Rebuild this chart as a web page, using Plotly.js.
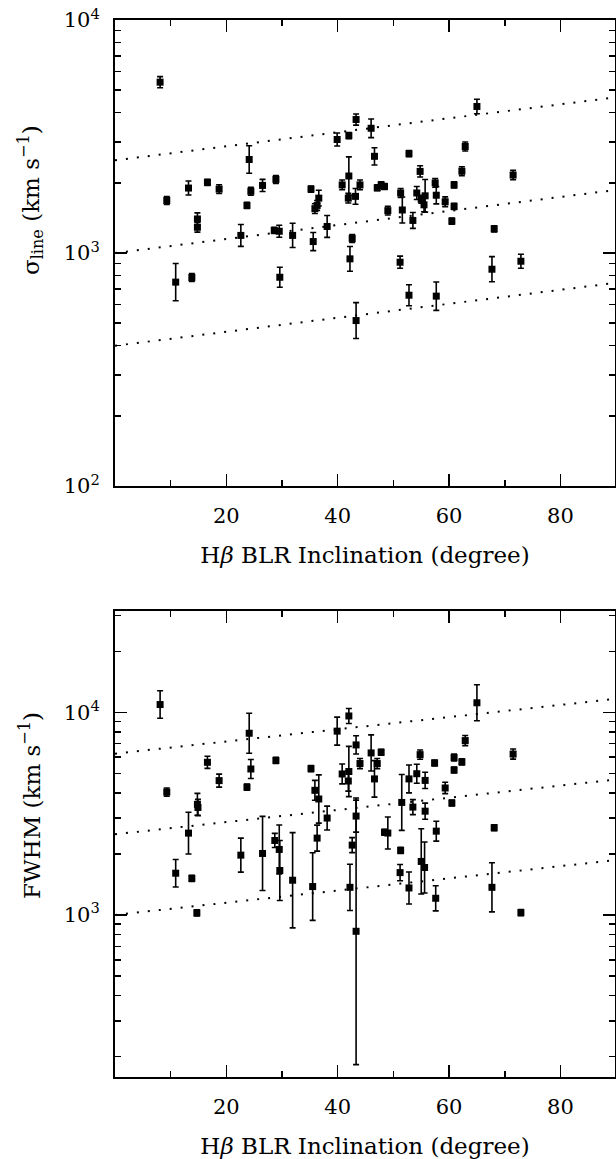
<!DOCTYPE html>
<html>
<head>
<meta charset="utf-8">
<script src="https://cdn.plot.ly/plotly-3.0.1.min.js"></script>
<style>
html,body{margin:0;padding:0;background:#fff;}
#chart{width:616px;height:1159px;}
</style>
</head>
<body>
<div id="chart"></div>
<script>
// ---- Top panel: sigma_line vs inclination ----
const sigInc = [8.1, 9.3, 10.9, 13.2, 13.8, 14.8, 14.8, 16.6, 18.7, 22.6, 23.7, 24.1, 24.4, 26.5, 28.6, 28.9, 29.5, 29.6, 31.9, 35.2, 35.6, 35.9, 36.3, 36.6, 38.1, 39.9, 40.8, 42.0, 42.0, 41.9, 42.2, 42.6, 43.3, 43.2, 43.3, 44.0, 46.0, 46.6, 47.1, 47.8, 48.4, 49.0, 51.2, 51.3, 51.6, 52.8, 52.8, 53.5, 54.2, 54.8, 55.0, 55.5, 55.7, 57.5, 57.7, 57.7, 59.3, 60.5, 60.9, 60.9, 62.3, 62.9, 65.0, 67.7, 68.1, 71.5, 72.9];
const sigVal = [5410, 1680, 750, 1900, 785, 1400, 1290, 2010, 1880, 1190, 1600, 2520, 1840, 1950, 1250, 2070, 1240, 787, 1190, 1880, 1120, 1550, 1600, 1720, 1300, 3070, 1960, 3190, 2140, 1720, 944, 1155, 3740, 1750, 513, 1960, 3430, 2600, 1905, 1960, 1930, 1520, 913, 1810, 1530, 2670, 659, 1380, 1810, 2240, 1700, 1610, 1760, 2000, 1770, 653, 1660, 1370, 1960, 1585, 2245, 2865, 4255, 852, 1270, 2160, 922];
const sigErrDex = [0.024, 0.017, 0.080, 0.030, 0.017, 0.026, 0.021, 0.013, 0.019, 0.047, 0.013, 0.059, 0.017, 0.026, 0.013, 0.017, 0.026, 0.043, 0.052, 0.013, 0.039, 0.021, 0.021, 0.034, 0.047, 0.028, 0.021, 0.013, 0.082, 0.021, 0.053, 0.017, 0.024, 0.034, 0.077, 0.021, 0.040, 0.037, 0.013, 0.013, 0.013, 0.019, 0.026, 0.019, 0.056, 0.013, 0.045, 0.034, 0.028, 0.024, 0.017, 0.030, 0.070, 0.019, 0.037, 0.061, 0.021, 0.013, 0.013, 0.013, 0.019, 0.019, 0.031, 0.054, 0.013, 0.020, 0.030];

// ---- Bottom panel: FWHM vs inclination ----
const fwhmInc = [8.1, 9.3, 10.9, 13.2, 13.8, 14.7, 14.8, 14.9, 16.6, 18.7, 22.6, 23.7, 24.1, 24.4, 26.5, 28.7, 28.9, 29.5, 29.6, 31.9, 35.2, 35.5, 35.9, 36.3, 36.6, 38.1, 39.9, 40.8, 42.0, 42.0, 41.9, 42.2, 42.6, 43.3, 43.3, 43.3, 44.0, 46.0, 46.6, 47.1, 47.8, 48.4, 49.0, 51.2, 51.3, 51.5, 52.8, 52.8, 53.5, 54.2, 54.8, 55.0, 55.6, 55.7, 55.7, 57.4, 57.7, 57.6, 59.3, 60.5, 60.9, 60.9, 62.3, 62.9, 65.0, 67.7, 68.1, 71.5, 72.9];
const fwhmVal = [10920, 4040, 1606, 2533, 1514, 1023, 3512, 3390, 5665, 4600, 1972, 4270, 7880, 5250, 2010, 2330, 5785, 2104, 1656, 1483, 5270, 1380, 4120, 2393, 3733, 3006, 8070, 4960, 9590, 5100, 4580, 1368, 2210, 6900, 3074, 830, 5585, 6300, 4690, 5585, 6350, 2558, 2535, 1617, 2080, 3590, 4690, 1358, 3405, 4975, 6180, 1836, 1714, 4610, 3250, 5620, 2590, 1208, 4230, 3566, 5975, 5190, 5690, 7250, 11140, 1368, 2693, 6220, 1026];
const fwhmErrDex = [0.068, 0.020, 0.068, 0.103, 0.015, 0.015, 0.054, 0.040, 0.030, 0.032, 0.084, 0.015, 0.099, 0.047, 0.183, 0.035, 0.015, 0.121, 0.148, 0.235, 0.015, 0.167, 0.049, 0.064, 0.119, 0.059, 0.069, 0.049, 0.037, 0.124, 0.050, 0.114, 0.037, 0.045, 0.079, 0.658, 0.025, 0.089, 0.090, 0.025, 0.015, 0.015, 0.079, 0.040, 0.015, 0.138, 0.069, 0.079, 0.037, 0.047, 0.023, 0.161, 0.126, 0.040, 0.040, 0.015, 0.049, 0.062, 0.028, 0.015, 0.017, 0.015, 0.015, 0.025, 0.089, 0.121, 0.015, 0.025, 0.015];

// ---- Dotted reference lines (end points at 0 and 90 degrees) ----
const lineX = [0, 90];
const sigLineLow = [400, 745];
const sigLineMid = [1000, 1865];
const sigLineHigh = [2500, 4660];
const fwhmLineLow = [1000, 1865];
const fwhmLineMid = [2500, 4660];
const fwhmLineHigh = [6250, 11650];

// ---- Ticks ----
const xTickVals = [20, 40, 60, 80];
const xTickText = ['20', '40', '60', '80'];
const xMinorVals = [10, 30, 50, 70];
const sigTickVals = [100, 1000, 10000];
const sigTickText = ['10<sup>2</sup>', '10<sup>3</sup>', '10<sup>4</sup>'];
const sigMinorVals = [200, 300, 400, 500, 600, 700, 800, 900, 2000, 3000, 4000, 5000, 6000, 7000, 8000, 9000];
const fwhmTickVals = [1000, 10000];
const fwhmTickText = ['10<sup>3</sup>', '10<sup>4</sup>'];
const fwhmMinorVals = [200, 300, 400, 500, 600, 700, 800, 900, 2000, 3000, 4000, 5000, 6000, 7000, 8000, 9000, 20000, 30000];

const FONT = 'DejaVu Serif, Liberation Serif, serif';
const X_RANGE = [0, 89.8];
const SIG_RANGE = [2, 4];
const FWHM_RANGE = [2.2, 4.5];

function errUp(vals, dex) { return vals.map((v, k) => v * (Math.pow(10, dex[k]) - 1)); }
function errDn(vals, dex) { return vals.map((v, k) => v * (1 - Math.pow(10, -dex[k]))); }

function pts(x, y, dex, xa, ya) {
  return {
    type: 'scatter', mode: 'markers', x: x, y: y, xaxis: xa, yaxis: ya,
    marker: {symbol: 'square', size: 7, color: '#000'},
    error_y: {type: 'data', symmetric: false, array: errUp(y, dex), arrayminus: errDn(y, dex),
              color: '#000', thickness: 1.6, width: 3},
    showlegend: false, hoverinfo: 'x+y'
  };
}
function dline(y, xa, ya) {
  return {
    type: 'scatter', mode: 'lines', x: lineX, y: y, xaxis: xa, yaxis: ya,
    line: {color: '#000', width: 2, dash: '2px,9px'},
    showlegend: false, hoverinfo: 'skip'
  };
}

const traces = [
  dline(sigLineLow, 'x', 'y'), dline(sigLineMid, 'x', 'y'), dline(sigLineHigh, 'x', 'y'),
  dline(fwhmLineLow, 'x2', 'y2'), dline(fwhmLineMid, 'x2', 'y2'), dline(fwhmLineHigh, 'x2', 'y2'),
  pts(sigInc, sigVal, sigErrDex, 'x', 'y'),
  pts(fwhmInc, fwhmVal, fwhmErrDex, 'x2', 'y2')
];

const TICKFONT = {family: FONT, size: 21, color: '#000'};

function xAxis(anchor, title) {
  return {
    anchor: anchor, domain: [0, 1], range: X_RANGE,
    showline: true, linecolor: '#000', linewidth: 2, mirror: 'allticks',
    ticks: 'inside', ticklen: 12, tickwidth: 1.5, tickcolor: '#000',
    tickmode: 'array', tickvals: xTickVals, ticktext: xTickText,
    minor: {tickmode: 'array', tickvals: xMinorVals, ticks: 'inside', ticklen: 6, tickwidth: 1.5, tickcolor: '#000', showgrid: false},
    showgrid: false, zeroline: false,
    tickfont: TICKFONT, ticklabelstandoff: 10,
    title: {text: title, font: {family: FONT, size: 23, color: '#000'}, standoff: 20}
  };
}
function yAxis(anchor, domain, range, tv, tt, mv) {
  return {
    anchor: anchor, domain: domain, type: 'log', range: range,
    showline: true, linecolor: '#000', linewidth: 2, mirror: 'allticks',
    ticks: 'inside', ticklen: 12, tickwidth: 1.5, tickcolor: '#000',
    tickmode: 'array', tickvals: tv, ticktext: tt,
    minor: {tickmode: 'array', tickvals: mv, ticks: 'inside', ticklen: 6, tickwidth: 1.5, tickcolor: '#000', showgrid: false},
    showgrid: false, zeroline: false,
    tickfont: TICKFONT, ticklabelstandoff: 9
  };
}

const xTitle = 'H<i>β</i> BLR Inclination (degree)';

const layout = {
  width: 616, height: 1159,
  margin: {l: 115, r: 1, t: 20, b: 82},
  paper_bgcolor: '#fff', plot_bgcolor: '#fff',
  showlegend: false,
  xaxis: xAxis('y', xTitle),
  yaxis: yAxis('x', [0.5591, 1], SIG_RANGE, sigTickVals, sigTickText, sigMinorVals),
  xaxis2: xAxis('y2', xTitle),
  yaxis2: yAxis('x2', [0, 0.4409], FWHM_RANGE, fwhmTickVals, fwhmTickText, fwhmMinorVals),
  annotations: [
    {text: 'σ<sub>line</sub> (km s<sup>−1</sup>)', xref: 'paper', yref: 'paper',
     x: -0.17, y: 0.8297, xanchor: 'center', yanchor: 'middle', textangle: -90, showarrow: false,
     font: {family: FONT, size: 23, color: '#000'}},
    {text: 'FWHM (km s<sup>−1</sup>)', xref: 'paper', yref: 'paper',
     x: -0.17, y: 0.2564, xanchor: 'center', yanchor: 'middle', textangle: -90, showarrow: false,
     font: {family: FONT, size: 23, color: '#000'}}
  ]
};

Plotly.newPlot('chart', traces, layout, {displayModeBar: false, staticPlot: true});
</script>
</body>
</html>
